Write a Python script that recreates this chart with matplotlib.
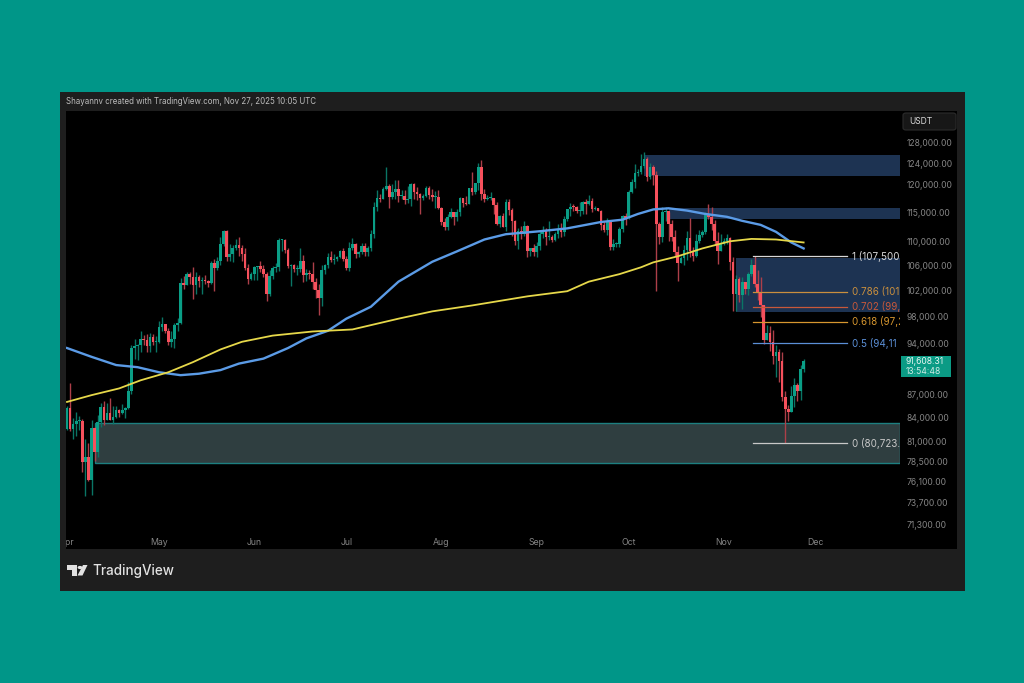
import pandas as pd
import matplotlib
matplotlib.use('Agg')
import matplotlib.pyplot as plt
import matplotlib.dates as mdates
from matplotlib.patches import Rectangle, Polygon, Circle, FancyBboxPatch
from matplotlib.ticker import FixedLocator, NullLocator
from matplotlib.transforms import Bbox, IdentityTransform, TransformedBbox

plt.rcParams['font.family'] = ['Inter', 'DejaVu Sans']

W, H = 1024, 683

# daily candles, in thousands of USDT, one line per month
first_open = 82.5
closes = [
    85.2, 82.5, 83.1, 83.5, 83.5, 78.4, 79.1, 76.3, 82.6, 79.6, 83.4, 85.3, 83.7, 84.5, 83.6,
    84.0, 84.9, 84.5, 85.0, 85.2, 87.5, 93.4, 93.7, 93.9, 94.7, 94.6, 93.7, 95.0, 94.2, 94.2,
    96.5, 96.9, 95.9, 94.3, 94.7, 96.8, 97.0, 103.2, 102.9, 104.6, 104.1, 102.8, 104.1, 103.5, 103.7,
    103.5, 103.2, 106.4, 105.6, 106.8, 109.6, 111.7, 107.3, 107.8, 108.9, 109.4, 108.9, 107.8, 105.6, 103.9, 104.6,
    105.7, 105.9, 105.4, 104.7, 101.5, 104.3, 105.6, 105.7, 110.2, 110.2, 108.6, 105.9, 106.0, 105.4, 105.5,
    106.8, 104.5, 104.8, 104.6, 103.3, 102.1, 100.9, 105.3, 106.0, 107.3, 106.9, 107.0, 107.3, 108.3, 107.1,
    105.6, 108.8, 109.6, 107.9, 108.2, 109.2, 108.2, 108.9, 111.2, 115.9, 117.5, 117.4, 119.1, 119.8, 117.7,
    118.6, 119.2, 117.9, 117.9, 117.2, 117.3, 120.0, 118.7, 118.3, 117.6, 117.9, 119.4, 118.0, 117.8, 117.8, 115.7,
    113.3, 112.5, 114.2, 115.1, 114.1, 115.0, 117.5, 116.6, 116.5, 119.3, 118.7, 120.2, 123.3, 118.3, 117.4,
    117.5, 117.5, 116.3, 112.9, 114.3, 112.5, 116.9, 115.4, 113.5, 110.1, 111.8, 111.2, 112.6, 108.4, 108.8, 108.2,
    109.2, 111.2, 111.7, 110.7, 110.7, 110.2, 111.2, 112.1, 111.5, 113.9, 115.5, 116.0, 115.9, 115.3, 115.3,
    116.8, 116.5, 117.0, 115.6, 115.7, 115.3, 112.7, 112.0, 113.3, 109.0, 109.6, 109.6, 112.1, 114.4, 114.0,
    118.6, 120.5, 122.2, 122.4, 123.5, 124.7, 121.4, 123.3, 121.7, 113.0, 110.8, 115.1, 115.3, 113.0, 110.7,
    108.2, 106.4, 107.2, 108.6, 110.5, 108.4, 107.6, 110.1, 111.0, 111.6, 114.5, 114.1, 112.9, 110.0, 108.3, 109.6,
    110.1, 110.5, 106.5, 101.5, 103.9, 101.3, 103.3, 102.3, 104.7, 106.0, 103.0, 101.7, 99.7, 94.6, 95.6,
    94.2, 92.2, 92.9, 91.5, 86.6, 85.1, 84.7, 86.8, 88.3, 87.4, 90.5, 91.6,
]
highs = [
    85.5, 88.5, 83.9, 84.7, 84.2, 83.8, 81.2, 80.8, 83.6, 82.7, 84.3, 85.9, 86.1, 85.8, 86.5,
    85.5, 85.5, 85.1, 85.7, 85.3, 88.6, 93.9, 94.7, 94.0, 95.8, 95.3, 95.4, 95.6, 95.4, 95.2,
    97.4, 97.9, 96.9, 96.3, 95.9, 97.0, 97.8, 104.0, 104.3, 104.9, 105.0, 105.8, 104.9, 104.4, 104.2,
    104.5, 103.7, 106.7, 107.1, 107.3, 110.7, 112.0, 111.9, 109.5, 109.3, 110.4, 110.7, 109.3, 108.9, 106.3, 104.9,
    105.9, 105.9, 106.8, 106.0, 105.0, 105.3, 105.9, 106.4, 110.5, 110.4, 110.4, 108.8, 106.2, 106.2, 106.1,
    108.9, 107.7, 105.5, 105.2, 106.5, 104.0, 103.0, 106.1, 106.3, 108.1, 108.3, 107.8, 107.5, 108.5, 108.8,
    107.5, 109.8, 110.5, 109.7, 108.4, 109.7, 109.7, 109.2, 111.9, 116.8, 118.9, 118.2, 119.5, 123.2, 120.0,
    120.0, 120.9, 120.9, 118.9, 118.9, 119.7, 120.2, 120.2, 119.5, 118.5, 118.3, 119.8, 119.8, 119.2, 118.8, 118.9,
    116.0, 114.0, 114.7, 115.7, 115.1, 115.6, 117.7, 117.6, 117.9, 119.3, 122.3, 120.3, 124.0, 124.5, 119.2,
    118.0, 118.6, 117.6, 116.8, 114.6, 114.8, 117.4, 117.4, 115.7, 113.6, 112.3, 112.6, 113.5, 112.7, 108.9, 109.5,
    109.9, 111.8, 112.6, 112.2, 113.4, 111.0, 111.6, 112.9, 113.2, 114.3, 115.6, 116.6, 116.4, 116.1, 116.8,
    117.0, 117.3, 118.0, 117.5, 116.1, 115.8, 115.4, 113.4, 114.0, 113.5, 110.3, 109.8, 112.4, 114.5, 114.8,
    119.0, 121.0, 123.9, 122.9, 125.7, 126.2, 125.1, 124.1, 123.7, 122.5, 113.3, 115.9, 116.0, 115.0, 113.6,
    111.9, 109.2, 107.5, 109.4, 111.7, 114.0, 109.0, 111.2, 112.0, 111.9, 115.0, 116.4, 116.0, 113.6, 111.6, 111.2,
    110.5, 111.2, 110.8, 107.3, 104.5, 104.2, 104.1, 103.4, 105.0, 107.0, 107.5, 105.3, 104.1, 99.8, 96.8,
    96.6, 96.0, 93.8, 93.2, 92.8, 87.5, 85.6, 88.1, 89.2, 88.5, 91.0, 91.9,
]
lows = [
    82.4, 82.3, 81.2, 81.6, 82.4, 77.2, 74.5, 76.2, 74.6, 78.5, 79.0, 82.8, 83.0, 83.7, 83.6,
    83.1, 83.9, 84.1, 84.4, 83.9, 85.1, 87.1, 91.9, 91.7, 92.8, 93.9, 92.9, 92.9, 93.9, 92.9,
    94.1, 95.9, 95.6, 93.9, 93.5, 93.4, 95.8, 96.9, 102.3, 102.8, 103.0, 100.7, 101.4, 102.6, 101.4,
    103.1, 102.6, 103.0, 102.0, 105.2, 106.1, 109.2, 106.7, 106.8, 106.6, 108.6, 107.5, 106.8, 105.3, 103.1, 103.6,
    103.7, 103.7, 105.0, 104.2, 100.4, 101.1, 103.9, 105.0, 105.1, 108.3, 108.1, 105.6, 102.7, 104.9, 104.5,
    104.9, 103.4, 103.5, 103.9, 102.3, 100.8, 98.2, 99.6, 104.6, 105.6, 106.5, 106.2, 106.8, 107.2, 106.7,
    105.3, 105.1, 108.6, 107.2, 107.3, 107.8, 107.5, 107.5, 108.3, 110.6, 115.2, 116.9, 117.3, 118.9, 115.7,
    117.4, 117.4, 116.8, 117.3, 116.5, 116.6, 116.1, 117.3, 117.1, 114.7, 117.2, 117.8, 117.4, 117.0, 115.8, 115.5,
    112.7, 112.0, 111.9, 114.0, 112.7, 113.4, 114.3, 115.9, 116.3, 116.5, 118.1, 118.2, 118.9, 117.2, 116.8,
    117.2, 117.2, 114.7, 112.7, 112.4, 112.4, 111.7, 114.6, 110.9, 109.3, 108.7, 110.4, 110.9, 107.4, 107.5, 107.5,
    107.3, 108.6, 110.5, 109.3, 110.2, 109.9, 110.0, 110.6, 110.8, 110.9, 113.4, 114.3, 115.3, 114.8, 114.4,
    114.7, 114.7, 116.3, 115.1, 115.4, 115.2, 112.0, 111.5, 111.1, 108.6, 108.6, 109.1, 109.0, 111.6, 112.7,
    113.9, 118.4, 119.3, 121.6, 122.0, 123.0, 120.6, 121.1, 119.9, 102.0, 109.6, 109.8, 113.4, 110.0, 110.1,
    107.5, 103.5, 106.4, 106.1, 106.9, 107.4, 106.7, 107.3, 109.7, 110.8, 111.3, 113.9, 112.0, 109.3, 106.3, 108.3,
    109.4, 109.5, 105.3, 98.9, 98.9, 100.3, 99.2, 101.4, 101.3, 104.3, 102.5, 100.6, 98.0, 94.0, 94.6,
    93.0, 91.2, 89.3, 88.6, 86.1, 80.7, 83.5, 84.7, 85.3, 86.1, 86.3, 90.1,
]

ma_blue_dates = [
    '2025-04-01', '2025-04-09', '2025-04-17', '2025-04-24', '2025-05-01', '2025-05-08', '2025-05-14',
    '2025-05-21', '2025-05-27', '2025-06-04', '2025-06-12', '2025-06-18', '2025-06-25', '2025-07-01',
    '2025-07-09', '2025-07-18', '2025-07-29', '2025-08-06', '2025-08-15', '2025-08-22', '2025-09-02',
    '2025-09-11', '2025-09-22', '2025-09-29', '2025-10-04', '2025-10-09', '2025-10-14', '2025-10-20',
    '2025-10-26', '2025-11-02', '2025-11-07', '2025-11-13', '2025-11-18', '2025-11-23', '2025-11-27',
]
ma_blue = [
    93.4, 92.15, 91.0, 90.7, 90.0, 89.6, 89.8, 90.3, 91.2, 91.9, 93.4, 94.8, 95.9, 97.7, 99.5,
    103.4, 106.6, 108.3, 110.3, 111.2, 111.7, 112.2, 113.3, 113.7, 114.7, 115.5, 115.7, 115.3,
    114.7, 114.2, 113.5, 112.8, 111.6, 109.8, 108.8,
]
ma_yellow_dates = [
    '2025-04-01', '2025-04-09', '2025-04-18', '2025-04-25', '2025-05-04', '2025-05-12', '2025-05-21',
    '2025-05-28', '2025-06-07', '2025-06-20', '2025-07-03', '2025-07-18', '2025-07-29', '2025-08-11',
    '2025-08-29', '2025-09-11', '2025-09-18', '2025-09-28', '2025-10-05', '2025-10-09', '2025-10-17',
    '2025-10-25', '2025-11-03', '2025-11-10', '2025-11-18', '2025-11-27',
]
ma_yellow = [
    86.0, 86.9, 87.8, 88.9, 90.0, 91.4, 93.2, 94.3, 95.2, 95.8, 96.1, 97.7, 98.8, 99.7, 101.1,
    101.9, 103.4, 104.6, 105.7, 106.5, 107.5, 108.8, 110.0, 110.4, 110.3, 109.8,
]

# zones: start date, low, high
blue_zones = [('2025-10-06', 121.6, 125.5), ('2025-10-14', 113.9, 115.8), ('2025-11-05', 98.7, 107.2)]
teal_zone = ('2025-04-10', 78.3, 83.3)

fib_levels = [107.5, 101.771, 99.52, 97.272, 94.111, 80.723]
# only what shows before the price scale cuts them off
fib_labels = ['1 (107,500', '0.786 (101', '0.702 (99,5', '0.618 (97,2', '0.5 (94,11', '0 (80,723.4']
fib_colors = ['#d8d8d8', '#c98f3e', '#c8583a', '#d6962f', '#5b8fd6', '#c8c8c8']

price_ticks = [128, 124, 120, 115, 110, 106, 102, 98, 94, 87, 84, 81, 78.5, 76.1, 73.7, 71.3]
month_ticks = ['2025-04-01', '2025-05-01', '2025-06-01', '2025-07-01', '2025-08-01',
               '2025-09-01', '2025-10-01', '2025-11-01', '2025-12-01']
month_names = ['Apr', 'May', 'Jun', 'Jul', 'Aug', 'Sep', 'Oct', 'Nov', 'Dec']


def box(x0, y0, x1, y1, color, z=0, **kw):
    # rectangle given in picture pixels, y going down
    r = Rectangle((x0 / W, 1 - y1 / H), (x1 - x0) / W, (y1 - y0) / H, transform=fig.transFigure,
                  facecolor=color, zorder=z, **kw)
    fig.add_artist(r)
    return r


def fx(x):
    return x / W


def fy(y):
    return 1 - y / H


fig = plt.figure(figsize=(W / 100, H / 100), dpi=100, facecolor='#009688')
box(60, 92, 965, 591, '#1e1e1e')
box(66, 111, 957, 549, '#000000')

ax = fig.add_axes([fx(66), fy(549), (900 - 66) / W, (549 - 111) / H])
ax.set_facecolor('#000000')
ax.set_zorder(2)
ax.set_yscale('log')
for s in ax.spines.values():
    s.set_visible(False)

dates = pd.date_range('2025-04-01', periods=len(closes))
x = mdates.date2num(dates)
opens = [first_open] + closes[:-1]
right_end = x[0] + 271.4

for start, lo, hi in blue_zones:
    x0 = mdates.datestr2num(start)
    ax.add_patch(Rectangle((x0, lo), right_end - x0, hi - lo, facecolor='#1d3352', edgecolor='none', zorder=1))
x0 = mdates.datestr2num(teal_zone[0])
ax.add_patch(Rectangle((x0, teal_zone[1]), right_end - x0, teal_zone[2] - teal_zone[1],
                       facecolor='#2f3e40', edgecolor='#1d7f80', linewidth=1, zorder=1))

up = '#0a9e86'
down = '#f6505c'
colors = [up if c >= o else down for o, c in zip(opens, closes)]
wicks = ['#0a7565' if c >= o else '#ad3f49' for o, c in zip(opens, closes)]
ax.vlines(x, lows, highs, colors=wicks, linewidth=1.0, zorder=2)
ax.bar(x, [max(abs(c - o), 0.15) for o, c in zip(opens, closes)],
       bottom=[min(o, c) for o, c in zip(opens, closes)], width=0.85, color=colors, zorder=3)

ax.plot(mdates.datestr2num(ma_blue_dates), ma_blue, color='#5b9be6', lw=1.7, zorder=4, solid_joinstyle='round')
ax.plot(mdates.datestr2num(ma_yellow_dates), ma_yellow, color='#e6d84a', lw=1.3, zorder=4, solid_joinstyle='round')

fib_x0 = mdates.datestr2num('2025-11-10') + 0.4
fib_x1 = mdates.datestr2num('2025-12-11') + 0.1
fib_text_x = mdates.datestr2num('2025-12-12') + 0.9
for level, label, color in zip(fib_levels, fib_labels, fib_colors):
    ax.plot([fib_x0, fib_x1], [level, level], color=color, lw=0.9, zorder=5)
    ax.text(fib_text_x, level, label, color=color, fontsize=7.1, va='center', ha='left', clip_on=True, zorder=6)

ax.set_xlim(x[0] - 0.33, right_end)
ax.set_ylim(68.65, 134.3)
ax.yaxis.set_major_locator(FixedLocator(price_ticks))
ax.yaxis.set_minor_locator(NullLocator())
ax.yaxis.tick_right()
ax.set_yticklabels(['{:,.2f}'.format(p * 1000) for p in price_ticks])
ax.tick_params(axis='y', length=0, pad=4.5, labelsize=6.2, labelcolor='#858585')
ax.set_xticks(mdates.datestr2num(month_ticks))
ax.set_xticklabels(month_names)
ax.xaxis.set_minor_locator(NullLocator())
ax.tick_params(axis='x', length=0, direction='in', pad=-8, labelsize=6.3, labelcolor='#858585')
# the first month label is cut by the left edge of the pane
clip = TransformedBbox(Bbox([[66, 0], [900, H]]), IdentityTransform())
lab = ax.get_xticklabels()[0]
lab.set_clip_box(clip)
lab.set_clip_on(True)

fig.text(fx(66), fy(102), 'Shayannv created with TradingView.com, Nov 27, 2025 10:05 UTC',
         color='#bdbdbd', fontsize=5.7, va='center', ha='left')

# USDT button
fig.add_artist(FancyBboxPatch((fx(903), fy(130)), 53 / W, 17 / H, boxstyle='round,pad=0,rounding_size=0.003',
                              transform=fig.transFigure, facecolor='#171717', edgecolor='#2c2c2c', lw=0.8, zorder=3))
fig.text(fx(909), fy(121.5), 'USDT', color='#d8d8d8', fontsize=6.1, va='center', ha='left', zorder=4)

# last price tag
box(901, 356, 951, 377, '#0b9b85', z=3)
fig.text(fx(906), fy(361.5), '91,608.31', color='#e8f5f2', fontsize=6.2, va='center', ha='left', zorder=4)
fig.text(fx(906), fy(371.5), '13:54:48', color='#cdeae4', fontsize=6.2, va='center', ha='left', zorder=4)

# TradingView mark
logo = '#e2e2e2'
t_mark = [(67, 565), (77, 565), (77, 575.5), (72, 575.5), (72, 570), (67, 570)]
v_mark = [(83, 565), (87.5, 565), (82.5, 575.5), (77.5, 575.5)]
for pts in (t_mark, v_mark):
    fig.add_artist(Polygon([(fx(a), fy(b)) for a, b in pts], transform=fig.transFigure,
                           facecolor=logo, edgecolor='none', zorder=4))
fig.add_artist(Circle((fx(80), fy(567.5)), 2.4 / W, transform=fig.transFigure, facecolor=logo, edgecolor='none', zorder=4))
fig.text(fx(92.5), fy(571), 'TradingView', color=logo, fontsize=9.7, fontweight='medium', va='center', ha='left', zorder=4)

fig.savefig('out.png', dpi=100, facecolor=fig.get_facecolor())
